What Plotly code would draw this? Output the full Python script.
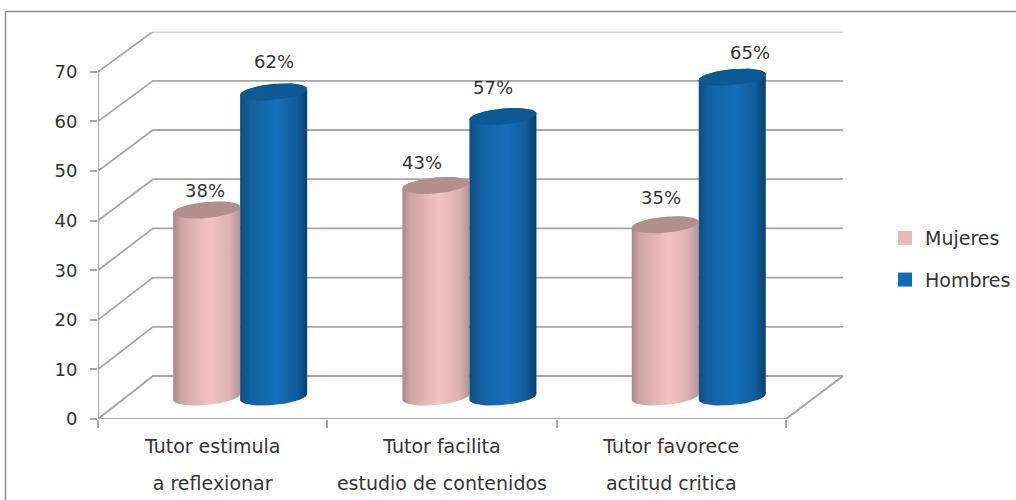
import numpy as np
import plotly.graph_objects as go

FIRST_LINE = ["Tutor estimula", "Tutor facilita", "Tutor favorece"]
SECOND_LINE = ["a reflexionar", "estudio de contenidos", "actitud critica"]
MUJERES = [38, 43, 35]
HOMBRES = [62, 57, 65]
Y_TICKS = [0, 10, 20, 30, 40, 50, 60, 70]

W, H = 1016, 500
BOTTOM = 10
P = H - BOTTOM  # height of the paper area inside the margins
PX_L, PX_R, PX_T, PX_B = 98, 843, 31.7, 419
UX, UY = 229.3, 4.96
X0 = -0.5
FONT = "DejaVu Sans"
TXT = "#333333"
GRID = "#a6a6a6"
XMAX = X0 + (PX_R - PX_L) / UX
YMAX = (PX_B - PX_T) / UY


def back_y(v):
    return (PX_B - 376) / UY + v * 4.92 / UY


def mid_y(v):
    return (PX_B - 397) / UY + v * 4.92 / UY


def body(cx, v, a, b, tilt):
    top = mid_y(v)
    base = mid_y(0)
    t1 = np.linspace(np.pi, 0, 40)
    t2 = np.linspace(0, -np.pi, 40)
    xs = np.r_[cx + a * np.cos(t1), cx + a * np.cos(t2)]
    ys = np.r_[top + (b * np.sin(t1) + tilt * np.cos(t1)),
               base + (b * np.sin(t2) + tilt * np.cos(t2))]
    return np.r_[xs, xs[0]], np.r_[ys, ys[0]]


def cap(cx, v, a, b, tilt):
    t = np.linspace(0, 2 * np.pi, 70)
    return cx + a * np.cos(t), mid_y(v) + b * np.sin(t) + tilt * np.cos(t)


fig = go.Figure()

# walls and floor
for v in Y_TICKS:
    fig.add_trace(go.Scatter(
        x=[X0, X0 + 55 / UX, XMAX], y=[v, back_y(v), back_y(v)], mode="lines",
        line=dict(color=GRID, width=1.8), hoverinfo="skip", showlegend=False))
fig.add_trace(go.Scatter(
    x=[X0, X0, X0 + 3, XMAX], y=[70, 0, 0, back_y(0)], mode="lines",
    line=dict(color=GRID, width=2), hoverinfo="skip", showlegend=False))

A = 33.5 / UX
B = 8 / UY
TILT = 3 / UY
OFF = 27.5 / UX
SERIES = [
    ("Mujeres", MUJERES, -A, "#e8b9b9", "#b08f8d",
     [[0, "#a98787"], [0.12, "#cfa5a5"], [0.55, "#f4c2c2"], [0.85, "#dcb0b0"], [1, "#b59494"]]),
    ("Hombres", HOMBRES, A, "#0f6cb9", "#0b5a96",
     [[0, "#0c4e85"], [0.15, "#10629f"], [0.55, "#1570ba"], [0.85, "#0e5c9a"], [1, "#053f6d"]]),
]
for i in range(len(FIRST_LINE)):
    for name, vals, shift, leg, top, scale in SERIES:
        cx = i + OFF + shift
        bx, by = body(cx, vals[i], A, B, TILT)
        fig.add_trace(go.Scatter(
            x=bx, y=by, mode="lines", fill="toself", line=dict(width=0),
            fillgradient=dict(type="horizontal", colorscale=scale),
            hoverinfo="skip", showlegend=False))
        cxs, cys = cap(cx, vals[i], A, B, TILT)
        fig.add_trace(go.Scatter(
            x=cxs, y=cys, mode="lines", fill="toself", line=dict(width=0),
            fillcolor=top, hoverinfo="skip", showlegend=False))

# legend entries
for k, (name, vals, shift, leg, top, scale) in enumerate(SERIES):
    fig.add_trace(go.Scatter(
        x=[None], y=[None], mode="markers", name=name, legendgroup=name,
        marker=dict(symbol="square", size=14, color=leg)))

# second axis only carries the second line of the category labels
fig.add_trace(go.Scatter(x=[0], y=[None], xaxis="x2", mode="lines",
                         hoverinfo="skip", showlegend=False))

# data labels
NUDGE_Y = [[20, 30], [23, 29], [27, 25]]
NUDGE_X = [[-2, 0], [-14, -10], [-4, 18]]
ann = []
for i in range(len(FIRST_LINE)):
    for s, (name, vals, shift, leg, top, scale) in enumerate(SERIES):
        ann.append(dict(
            x=i + OFF + shift, y=mid_y(vals[i]), xref="x", yref="y",
            text=f"{vals[i]}%", showarrow=False, xanchor="center", yanchor="middle",
            xshift=NUDGE_X[i][s], yshift=NUDGE_Y[i][s],
            font=dict(family=FONT, size=18, color=TXT)))

frame = dict(color="#8c8c8c", width=1.5)
shapes = [
    dict(type="line", xref="paper", yref="paper", x0=5.5 / W, x1=5.5 / W,
         y0=-BOTTOM / P, y1=1 - 11.5 / P, line=frame),
    dict(type="line", xref="paper", yref="paper", x0=5.5 / W, x1=1,
         y0=1 - 11.5 / P, y1=1 - 11.5 / P, line=frame),
]

fig.update_layout(
    width=W, height=H, margin=dict(l=0, r=0, t=0, b=BOTTOM),
    paper_bgcolor="white", plot_bgcolor="white",
    font=dict(family=FONT, size=18, color=TXT),
    annotations=ann, shapes=shapes,
    legend=dict(x=885 / W, y=1 - 219 / P, xanchor="left", yanchor="top",
                tracegroupgap=14, itemwidth=30, bgcolor="rgba(0,0,0,0)",
                font=dict(family=FONT, size=19, color=TXT)),
    xaxis=dict(domain=[PX_L / W, PX_R / W], range=[X0, XMAX], showgrid=False,
               zeroline=False, showline=False,
               tickmode="array", tickvals=[0, 1, 2], ticktext=FIRST_LINE, ticks="",
               ticklabelstandoff=14,
               minor=dict(tickmode="array", tickvals=[-0.5, 0.5, 1.5, 2.5],
                          ticks="outside", ticklen=8, tickcolor=GRID, tickwidth=1.5,
                          showgrid=False),
               tickfont=dict(family=FONT, size=19, color=TXT)),
    xaxis2=dict(domain=[PX_L / W, PX_R / W], range=[X0, XMAX], overlaying="x", anchor="y",
                side="bottom", showgrid=False, zeroline=False, showline=False,
                tickmode="array", tickvals=[0, 1, 2], ticktext=SECOND_LINE, ticks="",
                ticklabelstandoff=51,
                tickfont=dict(family=FONT, size=19, color=TXT)),
    yaxis=dict(domain=[1 - PX_B / P, 1 - PX_T / P], range=[0, YMAX], showgrid=False,
               zeroline=False, showline=False,
               tickmode="array", tickvals=Y_TICKS, ticks="outside", ticklen=7,
               tickcolor=GRID, tickwidth=1.5, ticklabelstandoff=9,
               tickfont=dict(family=FONT, size=18, color=TXT)),
)
fig.write_html("out.html", config=dict(displayModeBar=False),
               post_script="document.body.style.margin='0';")
